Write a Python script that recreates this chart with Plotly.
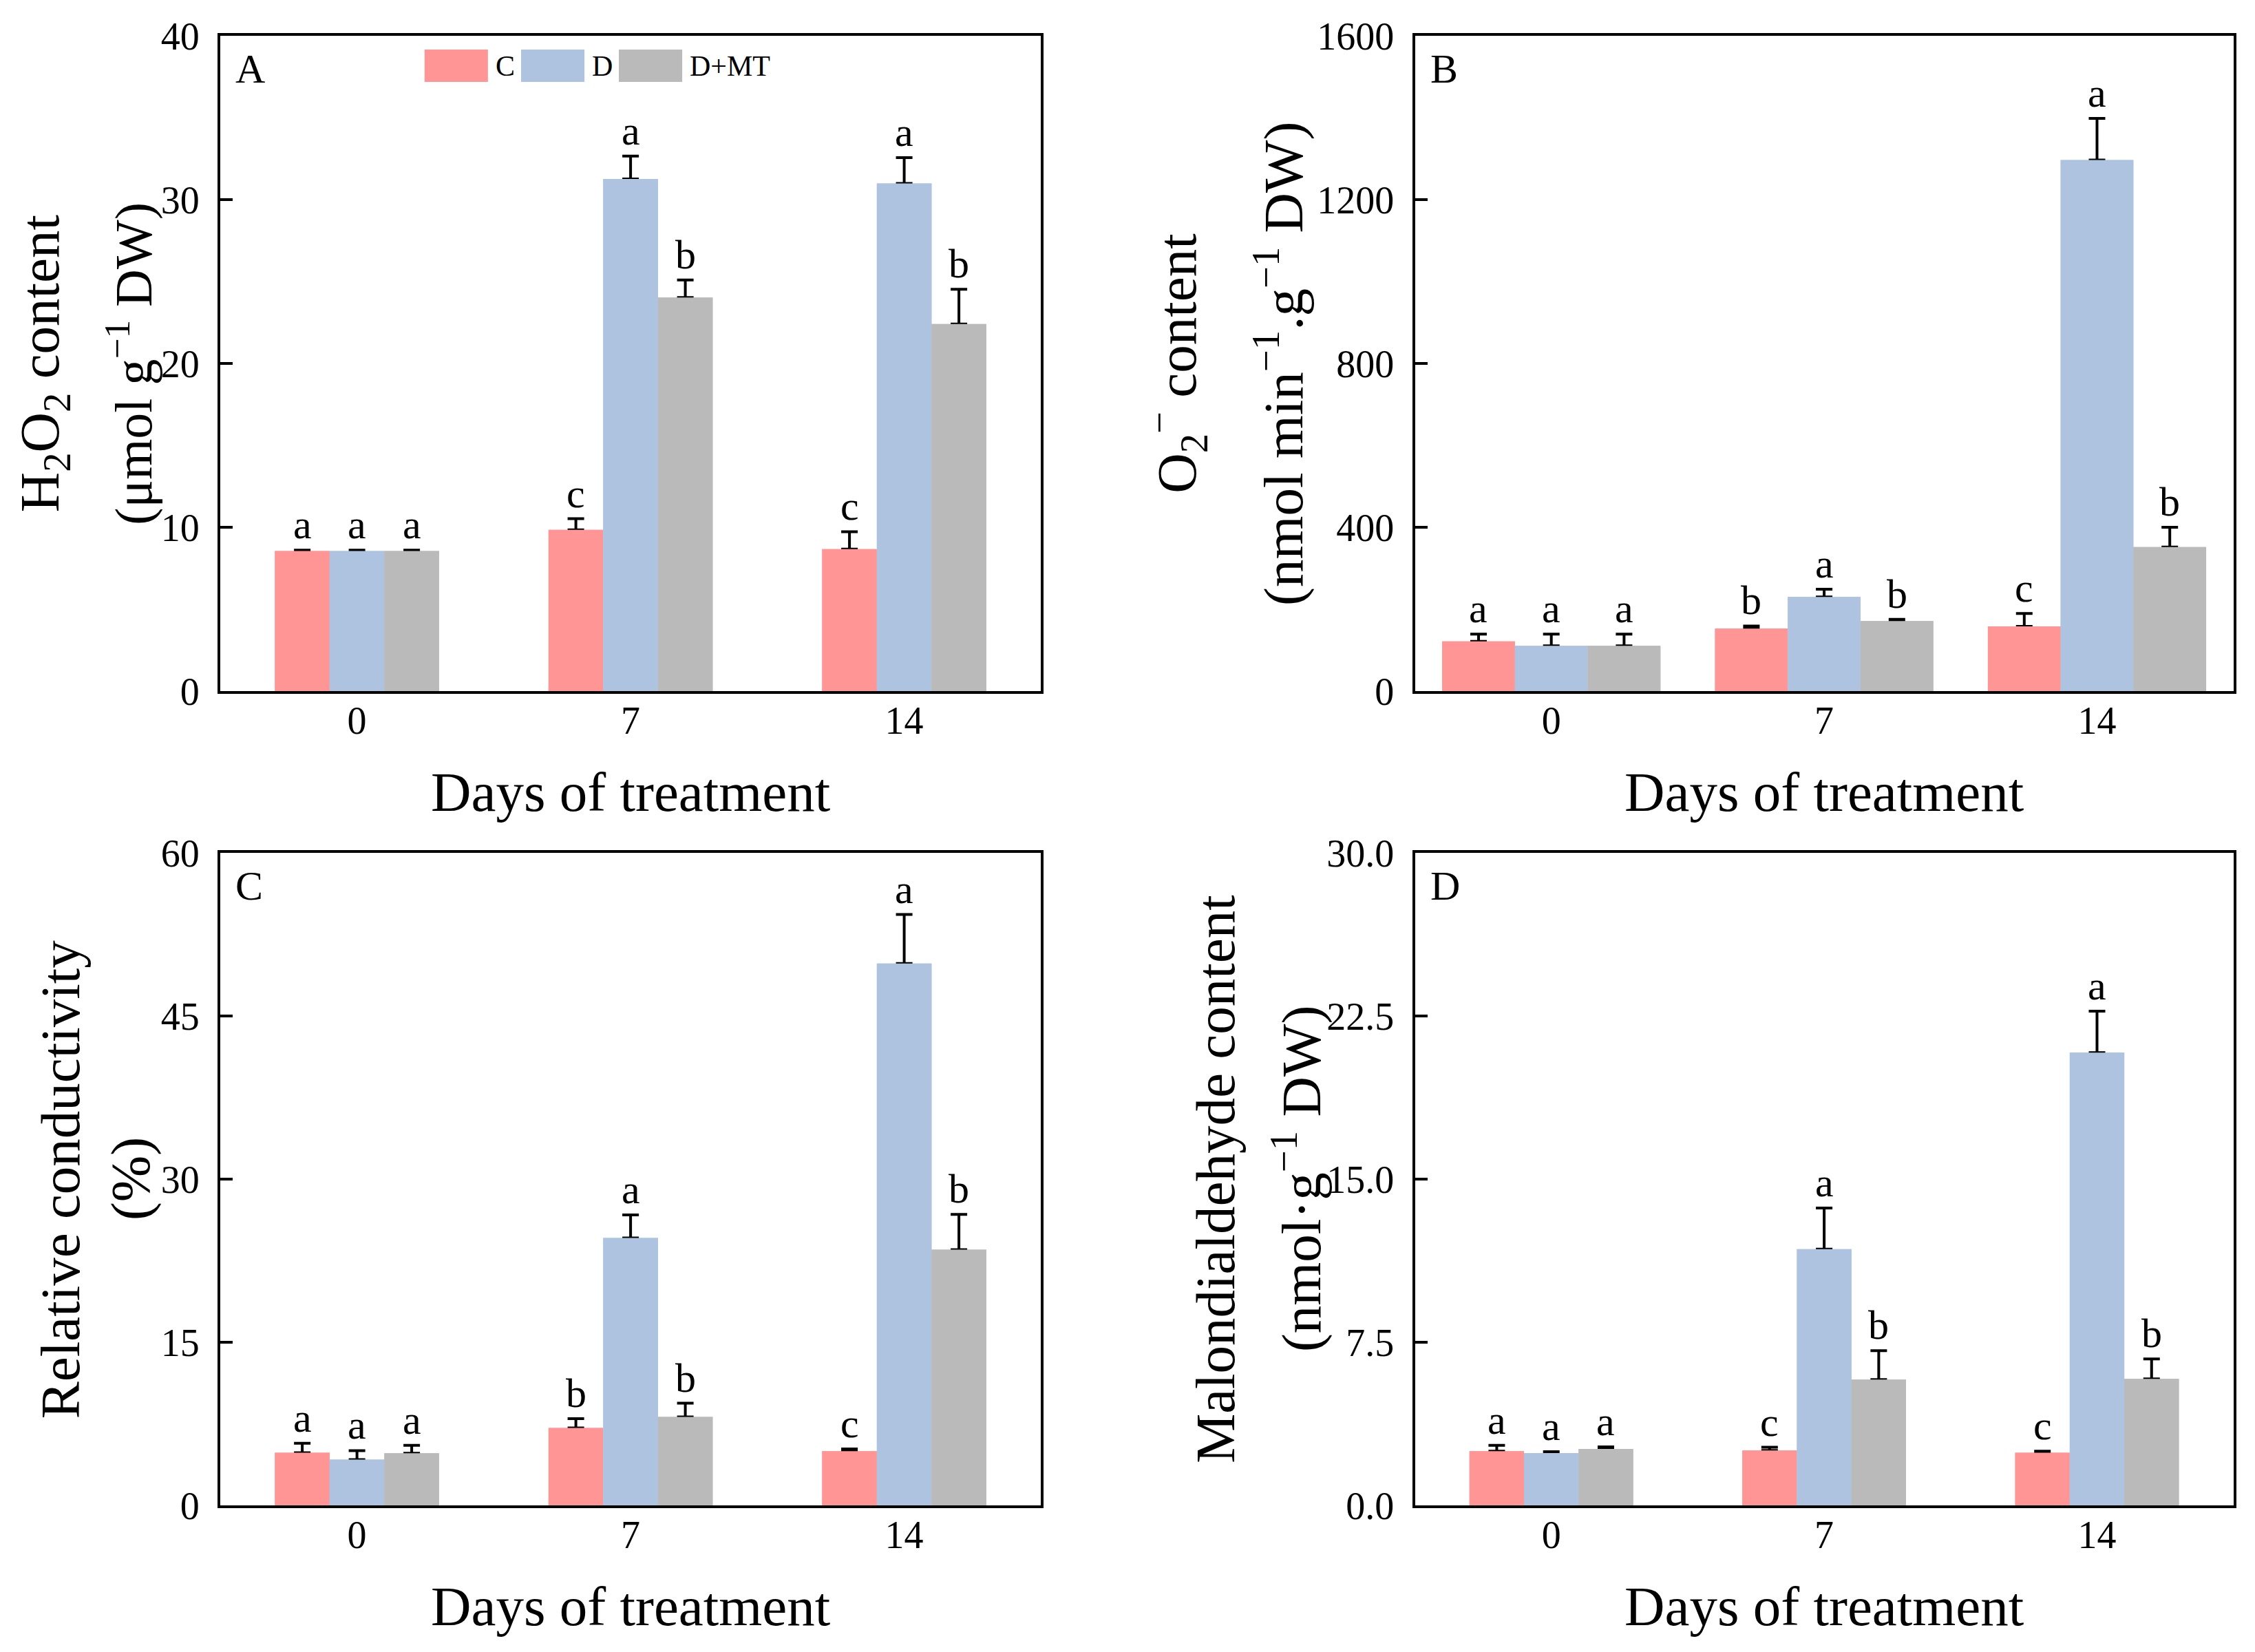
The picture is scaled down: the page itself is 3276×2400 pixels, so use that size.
import plotly.graph_objects as go
from plotly.subplots import make_subplots

# dados
days = ["0", "7", "14"]
groups = ["C", "D", "D+MT"]
colors = ["#FF9695", "#AEC3E0", "#BBBABA"]

# A - H2O2
h2o2_c = [8.55, 9.84, 8.66]
h2o2_d = [8.55, 31.26, 30.98]
h2o2_dmt = [8.55, 24.02, 22.40]
h2o2_c_err = [0.05, 0.68, 1.07]
h2o2_d_err = [0.05, 1.39, 1.58]
h2o2_dmt_err = [0.05, 1.07, 2.13]
h2o2_letters = [["a", "c", "c"], ["a", "a", "a"], ["a", "b", "b"]]

# B - O2-
o2_c = [121.6, 152.3, 157.8]
o2_d = [110.7, 230.0, 1296.4]
o2_dmt = [110.7, 171.0, 351.8]
o2_c_err = [17.5, 6.6, 31.8]
o2_d_err = [28.5, 18.6, 102.0]
o2_dmt_err = [28.5, 4.4, 48.2]
o2_letters = [["a", "b", "c"], ["a", "a", "a"], ["a", "b", "b"]]

# C - condutividade relativa
rc_c = [4.84, 7.11, 4.98]
rc_d = [4.21, 24.58, 49.83]
rc_dmt = [4.79, 8.13, 23.51]
rc_c_err = [0.87, 0.87, 0.20]
rc_d_err = [0.82, 2.13, 4.50]
rc_dmt_err = [0.73, 1.26, 3.24]
rc_letters = [["a", "b", "c"], ["a", "a", "a"], ["a", "b", "b"]]

# D - MDA
mda_c = [2.49, 2.52, 2.42]
mda_d = [2.40, 11.78, 20.81]
mda_dmt = [2.59, 5.78, 5.81]
mda_c_err = [0.27, 0.15, 0.07]
mda_d_err = [0.07, 1.89, 1.91]
mda_dmt_err = [0.10, 1.33, 0.92]
mda_letters = [["a", "c", "c"], ["a", "a", "a"], ["a", "b", "b"]]

FONT = "Liberation Serif"

panels = [
    dict(row=1, col=1, tag="A", vals=[h2o2_c, h2o2_d, h2o2_dmt],
         errs=[h2o2_c_err, h2o2_d_err, h2o2_dmt_err], letters=h2o2_letters,
         rng=[0, 40], dtick=10, fmt="", group=0.6,
         title1="H<sub>2</sub>O<sub>2</sub> content",
         title2="(μmol g<sup>−1</sup> DW)", tx=[0.0172, 0.0552], ts=[81, 76]),
    dict(row=1, col=2, tag="B", vals=[o2_c, o2_d, o2_dmt],
         errs=[o2_c_err, o2_d_err, o2_dmt_err], letters=o2_letters,
         rng=[0, 1600], dtick=400, fmt="", group=0.8,
         title1="O<sub>2</sub><sup>−</sup> content",
         title2="(nmol min<sup>−1</sup>.g<sup>−1</sup> DW)", tx=[0.5192, 0.565], ts=[81, 81]),
    dict(row=2, col=1, tag="C", vals=[rc_c, rc_d, rc_dmt],
         errs=[rc_c_err, rc_d_err, rc_dmt_err], letters=rc_letters,
         rng=[0, 60], dtick=15, fmt="", group=0.6,
         title1="Relative conductivity",
         title2="(%)", tx=[0.0245, 0.0556], ts=[81, 81]),
    dict(row=2, col=2, tag="D", vals=[mda_c, mda_d, mda_dmt],
         errs=[mda_c_err, mda_d_err, mda_dmt_err], letters=mda_letters,
         rng=[0, 30], dtick=7.5, fmt=".1f", group=0.6,
         title1="Malondialdehyde content",
         title2="(nmol·g<sup>−1</sup> DW)", tx=[0.5366, 0.573], ts=[81, 81]),
]

xdoms = {1: [0.0952, 0.4592], 2: [0.6250, 0.9880]}
ydoms = {1: [0.585, 0.9817], 2: [0.0921, 0.4871]}

fig = make_subplots(rows=2, cols=2)

for i, p in enumerate(panels):
    n = len(groups)
    w = p["group"] / n
    xa = "x" if i == 0 else "x%d" % (i + 1)
    ya = "y" if i == 0 else "y%d" % (i + 1)
    for k in range(n):
        off = -p["group"] / 2 + k * w
        # barra com barra de erro (so para cima)
        fig.add_trace(go.Bar(
            x=days, y=p["vals"][k], name=groups[k],
            marker=dict(color=colors[k], line=dict(width=0)),
            width=w, offset=off, showlegend=False,
            error_y=dict(type="data", array=p["errs"][k], arrayminus=[0] * len(days),
                         symmetric=False, color="black", thickness=4, width=12),
        ), row=p["row"], col=p["col"])
        # mesma barra por cima, para esconder o traco inferior do erro
        fig.add_trace(go.Bar(
            x=days, y=p["vals"][k], name=groups[k],
            marker=dict(color=colors[k], line=dict(width=0)),
            width=w, offset=off, showlegend=False, hoverinfo="skip",
        ), row=p["row"], col=p["col"])
        # letras de significancia
        for j in range(len(days)):
            fig.add_annotation(
                x=j + off + w / 2, y=p["vals"][k][j] + p["errs"][k][j],
                xref=xa, yref=ya, text=p["letters"][k][j], showarrow=False,
                yanchor="bottom", yshift=2, font=dict(family=FONT, size=60, color="black"))

    yd = ydoms[p["row"]]
    xd = xdoms[p["col"]]
    fig.update_xaxes(domain=xd, type="category", showline=True, linewidth=4, linecolor="black",
                     mirror=True, ticks="", showgrid=False, zeroline=False, automargin=False,
                     tickfont=dict(family=FONT, size=56, color="black"),
                     ticklabelstandoff=-9, row=p["row"], col=p["col"])
    fig.update_yaxes(domain=yd, range=p["rng"], dtick=p["dtick"], tick0=0, tickformat=p["fmt"],
                     showline=True, linewidth=4, linecolor="black", mirror=True,
                     ticks="inside", ticklen=18, tickwidth=4, tickcolor="black",
                     showgrid=False, zeroline=False, automargin=False,
                     tickfont=dict(family=FONT, size=56, color="black"),
                     ticklabelstandoff=15, row=p["row"], col=p["col"])

    # letra do painel
    fig.add_annotation(x=0.017, y=0.986, xref=xa + " domain", yref=ya + " domain",
                       text=p["tag"], showarrow=False, xanchor="left", yanchor="top",
                       font=dict(family=FONT, size=60, color="black"))
    # titulo do eixo x
    fig.add_annotation(x=(xd[0] + xd[1]) / 2, y=yd[0] - 0.0613, xref="paper", yref="paper",
                       text="Days of treatment", showarrow=False,
                       xanchor="center", yanchor="middle",
                       font=dict(family=FONT, size=81, color="black"))
    # titulo do eixo y em duas linhas
    for t, tx, ts in zip([p["title1"], p["title2"]], p["tx"], p["ts"]):
        fig.add_annotation(x=tx, y=(yd[0] + yd[1]) / 2, xref="paper", yref="paper",
                           text=t, showarrow=False, textangle=-90,
                           xanchor="center", yanchor="middle",
                           font=dict(family=FONT, size=ts, color="black"))

# legenda desenhada no painel A
leg_x = [0.249, 0.3666, 0.4857]
for k in range(len(groups)):
    fig.add_shape(type="rect", xref="x domain", yref="y domain",
                  x0=leg_x[k], x1=leg_x[k] + 0.0772, y0=0.9296, y1=0.979,
                  fillcolor=colors[k], line=dict(width=0))
    fig.add_annotation(x=leg_x[k] + 0.0848, y=0.954, xref="x domain", yref="y domain",
                       text=groups[k], showarrow=False, xanchor="left", yanchor="middle",
                       font=dict(family=FONT, size=42, color="black"))

fig.update_layout(
    width=3276, height=2400,
    barmode="group",
    plot_bgcolor="white", paper_bgcolor="white",
    margin=dict(l=0, r=0, t=0, b=0, autoexpand=False),
    showlegend=False,
    font=dict(family=FONT, color="black"),
)

fig.write_html("out.html")
